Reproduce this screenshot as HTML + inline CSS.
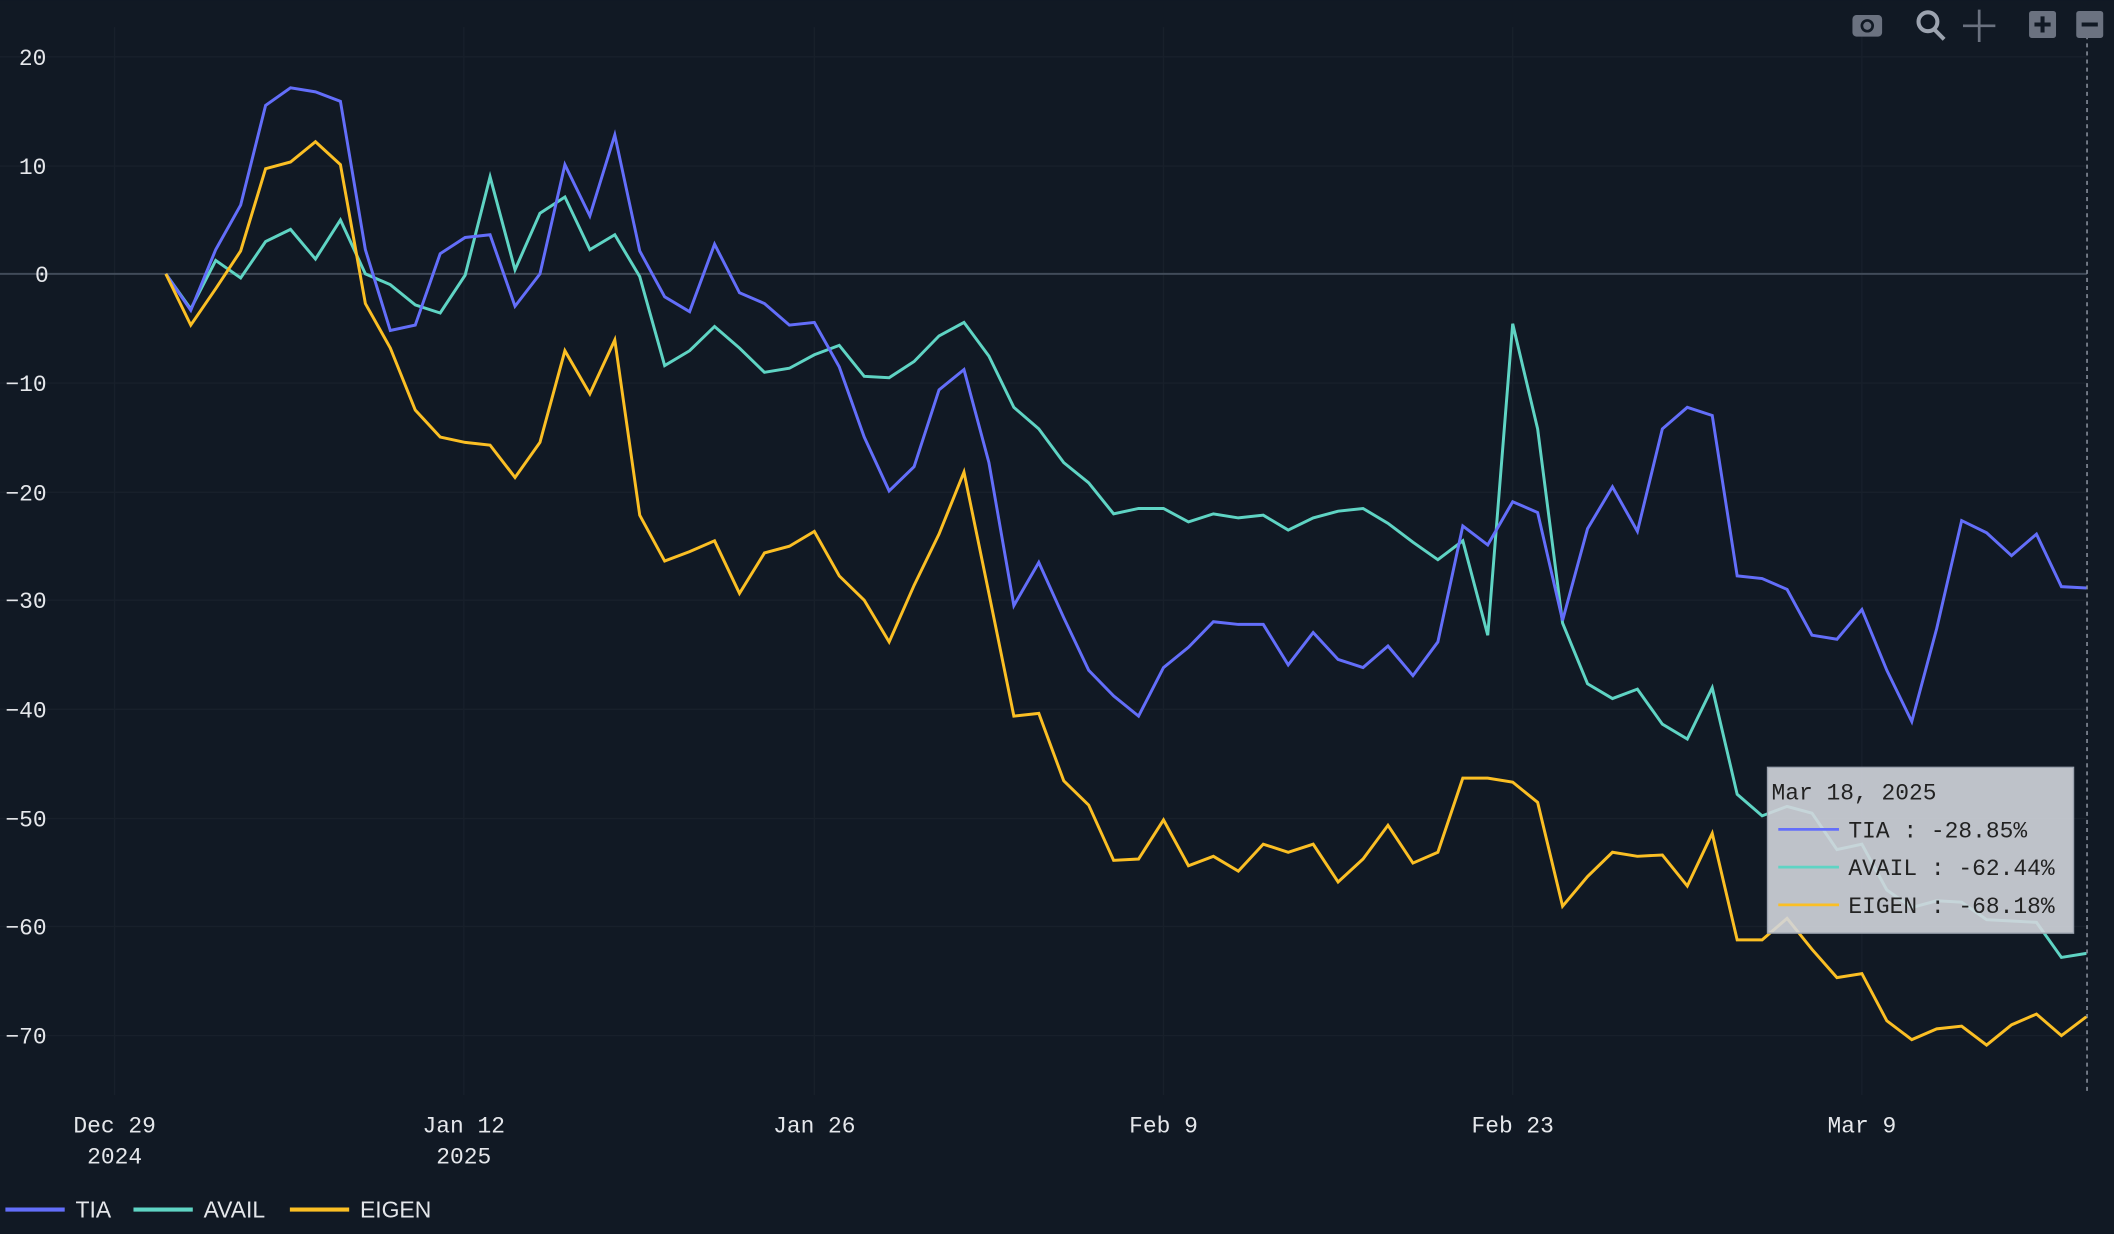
<!DOCTYPE html>
<html><head><meta charset="utf-8"><style>
html,body{margin:0;padding:0;background:#111924;}
svg{display:block}
.t{font-family:"Liberation Mono",monospace;font-size:17px;fill:#e5e7eb}
.l{font-family:"Liberation Sans",sans-serif;font-size:17px;fill:#e5e7eb}
</style></head><body>
<svg id="s" width="2114" height="1234" viewBox="0 0 1568 915" xmlns="http://www.w3.org/2000/svg">
<rect width="1568" height="915" fill="#111924"/>
<g stroke="#18202b" stroke-width="1">
<line x1="0" x2="1548" y1="42" y2="42"/><line x1="0" x2="1548" y1="123" y2="123"/>
<line x1="0" x2="1548" y1="284" y2="284"/><line x1="0" x2="1548" y1="365" y2="365"/>
<line x1="0" x2="1548" y1="445" y2="445"/><line x1="0" x2="1548" y1="526" y2="526"/>
<line x1="0" x2="1548" y1="607" y2="607"/><line x1="0" x2="1548" y1="687" y2="687"/>
<line x1="0" x2="1548" y1="768" y2="768"/>
<line x1="85" x2="85" y1="20" y2="812"/><line x1="344" x2="344" y1="20" y2="812"/>
<line x1="604" x2="604" y1="20" y2="812"/><line x1="863" x2="863" y1="20" y2="812"/>
<line x1="1122" x2="1122" y1="20" y2="812"/><line x1="1381" x2="1381" y1="20" y2="812"/>
</g>
<line x1="0" x2="1548" y1="203" y2="203" stroke="#414b59" stroke-width="1.5"/>
<g class="t" text-anchor="start">
<text x="14" y="48">20</text><text x="14" y="129">10</text><text x="26" y="209">0</text>
<text x="4" y="290">−10</text><text x="4" y="371">−20</text><text x="4" y="451">−30</text>
<text x="4" y="532">−40</text><text x="4" y="613">−50</text><text x="4" y="693">−60</text>
<text x="4" y="774">−70</text>
</g>
<g class="t" text-anchor="middle">
<text x="85" y="840">Dec 29</text><text x="85" y="863">2024</text>
<text x="344" y="840">Jan 12</text><text x="344" y="863">2025</text>
<text x="604" y="840">Jan 26</text><text x="863" y="840">Feb 9</text>
<text x="1122" y="840">Feb 23</text><text x="1381" y="840">Mar 9</text>
</g>
<line x1="1548" x2="1548" y1="20" y2="812" stroke="#9ca3af" stroke-dasharray="3,3" stroke-width="1"/>
<polyline id="a" fill="none" stroke="#5fd4c4" stroke-width="2.2"/>
<polyline id="b" fill="none" stroke="#636efa" stroke-width="2.2"/>
<polyline id="c" fill="none" stroke="#fbbf24" stroke-width="2.2"/>
<g>
<rect x="1311" y="569" width="227" height="123" fill="#d1d5db" fill-opacity="0.9" stroke="#9ca3af"/>
<text class="t" x="1314" y="593" style="fill:#222">Mar 18, 2025</text>
<line x1="1319" x2="1364" y1="615" y2="615" stroke="#636efa" stroke-width="2"/>
<line x1="1319" x2="1364" y1="643" y2="643" stroke="#5fd4c4" stroke-width="2"/>
<line x1="1319" x2="1364" y1="671" y2="671" stroke="#fbbf24" stroke-width="2"/>
<text class="t" x="1371" y="621" style="fill:#222">TIA : -28.85%</text>
<text class="t" x="1371" y="649" style="fill:#222">AVAIL : -62.44%</text>
<text class="t" x="1371" y="677" style="fill:#222">EIGEN : -68.18%</text>
</g>
<g fill="#6b7280">
<rect x="1374" y="11" width="22" height="16" rx="3"/><circle cx="1385" cy="19" r="5" fill="#111924"/><circle cx="1385" cy="19" r="3"/>
<circle cx="1430" cy="16" r="7" fill="none" stroke="#9ca3af" stroke-width="3"/><line x1="1435" y1="22" x2="1442" y2="29" stroke="#9ca3af" stroke-width="3"/>
<path d="M1468 7v24M1456 19h24" stroke="#6b7280" stroke-width="2"/>
<rect x="1505" y="8" width="20" height="20" rx="2"/><path d="M1509 18h12M1515 12v12" stroke="#111924" stroke-width="3"/>
<rect x="1540" y="8" width="20" height="20" rx="2"/><path d="M1544 18h12" stroke="#111924" stroke-width="3"/>
</g>
<line x1="4" x2="48" y1="897" y2="897" stroke="#636efa" stroke-width="3"/><text class="l" x="56" y="903">TIA</text>
<line x1="99" x2="143" y1="897" y2="897" stroke="#5fd4c4" stroke-width="3"/><text class="l" x="151" y="903">AVAIL</text>
<line x1="215" x2="259" y1="897" y2="897" stroke="#fbbf24" stroke-width="3"/><text class="l" x="267" y="903">EIGEN</text>
</svg>
<script>
var T=[203,230,185,152,78,65,68,75,185,245,241,188,176,174,227,203,122,160,100,186,220,231,181,217,225,241,239,272,324,364,346,289,274,343,449,417,458,497,516,531,495,480,461,463,463,493,469,489,495,479,501,476,390,404,372,380,460,392,361,394,318,302,308,427,429,437,471,474,452,497,535,466,386,395,412,396,435,436];
var A=[203,229,193,206,179,170,192,163,203,211,226,232,204,131,200,158,146,185,174,205,271,260,242,258,276,273,263,256,279,280,268,249,239,264,302,318,343,358,381,377,377,387,381,384,382,393,384,379,377,388,402,415,401,471,240,318,462,507,518,511,537,548,510,589,605,598,603,630,626,660,673,668,669,682,683,684,710,707];
var E=[203,241,214,186,125,120,105,122,225,258,304,324,328,330,354,328,260,292,252,382,416,409,401,440,410,405,394,427,445,476,434,396,350,440,531,529,579,597,638,637,608,642,635,646,626,632,626,654,637,612,640,632,577,577,580,595,672,650,632,635,634,657,618,697,697,681,704,725,722,757,771,763,761,775,760,752,768,754];
function p(v){return v.map(function(y,i){return (123+18.5*i).toFixed(1)+","+y}).join(" ")}
document.getElementById("b").setAttribute("points",p(T));
document.getElementById("a").setAttribute("points",p(A));
document.getElementById("c").setAttribute("points",p(E));
</script>
</body></html>
